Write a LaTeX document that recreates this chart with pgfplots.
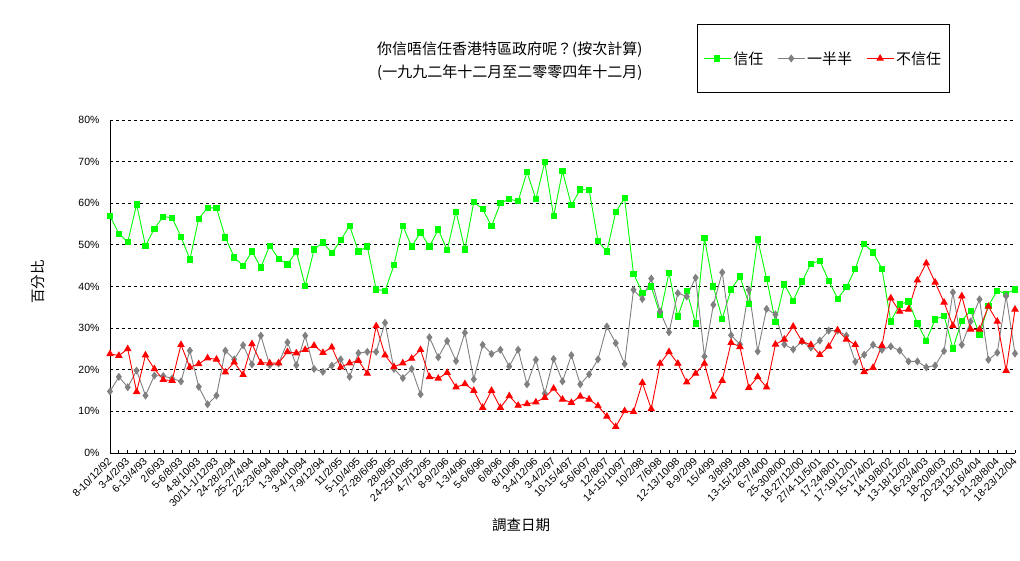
\documentclass[border=0pt]{standalone}
\usepackage{pgfplots}
\pgfplotsset{compat=1.18}
\usepackage{pgfplotstable}
\usepackage{fontspec}
\setmainfont{Liberation Sans}
\newfontfamily\cjk{Noto Sans CJK TC}
\definecolor{cgreen}{RGB}{0,255,0}
\definecolor{cgrey}{RGB}{128,128,128}
\definecolor{cred}{RGB}{255,0,0}

\pgfplotstableread{
x g h r
0 57.0 14.8 23.8
1 52.7 18.3 23.4
2 50.7 15.8 25.0
3 59.7 19.8 14.7
4 49.8 13.8 23.5
5 53.9 18.6 20.2
6 56.8 18.5 17.6
7 56.5 17.9 17.4
8 52.0 17.2 26.0
9 46.5 24.6 20.6
10 56.3 15.9 21.4
11 58.9 11.7 22.8
12 58.9 13.8 22.5
13 51.8 24.6 19.4
14 47.0 22.5 21.8
15 45.0 25.9 18.8
16 48.4 21.3 26.2
17 44.6 28.2 21.7
18 49.8 21.1 21.6
19 46.7 21.5 21.6
20 45.3 26.6 24.3
21 48.4 21.1 24.0
22 40.2 28.2 24.8
23 48.9 20.2 25.8
24 50.6 19.5 24.1
25 48.0 21.0 25.4
26 51.1 22.5 20.6
27 54.6 18.3 21.6
28 48.4 24.0 22.2
29 49.6 24.3 19.1
30 39.3 24.3 30.5
31 39.0 31.3 23.5
32 45.1 20.2 20.7
33 54.6 18.0 21.6
34 49.6 20.2 22.7
35 53.0 14.1 24.8
36 49.6 27.8 18.3
37 53.7 23.0 17.9
38 48.7 26.9 19.3
39 58.0 22.1 15.8
40 48.9 28.9 16.6
41 60.3 17.7 15.0
42 58.6 26.0 10.9
43 54.5 23.8 15.0
44 60.0 24.8 10.9
45 61.0 20.8 13.7
46 60.5 24.8 11.4
47 67.5 16.5 11.8
48 61.0 22.4 12.2
49 69.9 14.3 13.3
50 56.9 22.6 15.5
51 67.7 17.2 12.9
52 59.5 23.5 12.1
53 63.3 16.5 13.6
54 63.2 18.9 12.9
55 50.9 22.5 11.3
56 48.4 30.4 8.8
57 57.9 26.4 6.3
58 61.2 21.4 10.1
59 43.1 39.2 9.9
60 38.5 37.0 16.9
61 40.0 41.9 10.6
62 33.2 34.0 21.5
63 43.3 29.0 24.3
64 32.8 38.4 21.5
65 39.0 37.6 17.0
66 31.1 42.1 19.1
67 51.6 23.2 21.5
68 40.0 35.6 13.6
69 32.3 43.4 17.4
70 39.3 28.3 26.5
71 42.4 26.1 25.5
72 35.9 39.2 15.7
73 51.3 24.4 18.3
74 41.9 34.6 15.8
75 31.5 33.3 26.1
76 40.5 26.1 27.3
77 36.6 24.9 30.4
78 41.2 26.8 26.8
79 45.5 25.3 26.0
80 46.2 27.0 23.6
81 41.4 29.4 25.6
82 37.1 29.4 29.5
83 39.8 28.2 27.3
84 44.3 21.9 26.0
85 50.3 23.6 19.5
86 48.2 26.0 20.5
87 44.3 24.8 25.8
88 31.6 25.6 37.2
89 35.7 24.6 34.0
90 36.4 22.0 34.5
91 31.1 22.0 41.5
92 27.0 20.6 45.6
93 32.1 21.0 41.0
94 33.0 24.5 36.2
95 25.1 38.6 30.6
96 31.8 26.0 37.7
97 34.2 31.6 29.7
98 28.5 36.9 29.7
99 35.4 22.4 35.2
100 39.0 24.1 31.6
101 38.3 37.7 19.8
102 39.3 23.9 34.5
}\datatable

\begin{document}
\begin{tikzpicture}[x=1pt,y=1pt]
\path[use as bounding box] (0,0) rectangle (1020,560);
\begin{axis}[
  at={(110pt,107pt)}, anchor=south west,
  scale only axis, width=905pt, height=333pt,
  xmin=0, xmax=102, ymin=0, ymax=80,
  clip=false,
  axis x line*=bottom, axis y line*=left,
  axis line style={black, line width=0.8pt},
  xtick={0,2,...,102},
  minor xtick={1,3,...,101},
  xticklabels={8-10/12/92, 3-4/2/93, 6-13/4/93, 2/6/93, 5-6/8/93, 4-8/10/93, 30/11-1/12/93, 24-28/2/94, 25-27/4/94, 22-23/6/94, 1-3/8/94, 3-4/10/94, 7-9/12/94, 11/2/95, 5-10/4/95, 27-28/6/95, 28/8/95, 24-25/10/95, 4-7/12/95, 8-9/2/96, 1-3/4/96, 5-6/6/96, 6/8/96, 8/10/96, 3-4/12/96, 3-4/2/97, 10-15/4/97, 5-6/6/97, 12/8/97, 14-15/10/97, 10/2/98, 7/6/98, 12-13/10/98, 8-9/2/99, 15/4/99, 3/8/99, 13-15/12/99, 6-7/4/00, 25-30/8/00, 18-27/12/00, 27/4-11/5/01, 17-24/8/01, 17-19/12/01, 15-17/4/02, 14-19/8/02, 13-18/12/02, 16-23/4/03, 18-20/8/03, 20-23/12/03, 13-16/4/04, 21-28/8/04, 18-23/12/04},
  xticklabel style={xshift=-3pt, yshift=-3pt, rotate=45, anchor=north east, font=\fontsize{10.5}{11}\selectfont, inner sep=0.5pt},
  ytick={0,10,...,80},
  yticklabel={\pgfmathprintnumber{\tick}\%},
  /pgf/number format/assume math mode=true,
  yticklabel style={font=\fontsize{10.5}{12}\selectfont, xshift=-7pt},
  ymajorgrids,
  grid style={black, dash pattern=on 3pt off 3pt, line width=0.8pt},
  tick style={black, line width=0.8pt},
  tick align=inside,
  major tick length=3pt, minor tick length=3pt,
  legend columns=3,
  legend style={at={(0.6486,1.2883)}, anchor=north west, draw=black, line width=0.8pt,
    inner xsep=6pt, inner ysep=25pt,
    font=\cjk\fontsize{15}{16}\selectfont,
    /tikz/every even column/.append style={column sep=12pt}},
  legend image code/.code={\draw[mark repeat=2,mark phase=2,#1] plot coordinates {(0pt,0pt) (13.5pt,0pt) (27pt,0pt)};},
]
\addplot[color=cgreen, line width=0.9pt, mark=square*, mark size=2.6pt, mark options={solid, fill=cgreen, draw=cgreen}] table[x=x, y=g] {\datatable};
\addlegendentry{信任}
\addplot[color=cgrey, line width=0.9pt, mark=diamond*, mark size=3.3pt, mark options={solid, fill=cgrey, draw=cgrey}] table[x=x, y=h] {\datatable};
\addlegendentry{一半半}
\addplot[color=cred, line width=0.9pt, mark=triangle*, mark size=3.5pt, mark options={solid, fill=cred, draw=cred}] table[x=x, y=r] {\datatable};
\addlegendentry{不信任}
\end{axis}
\node[anchor=west, font=\cjk\fontsize{15}{16}\selectfont, inner sep=0pt] at (377,510) {你信唔信任香港特區政府呢？(按次計算)};
\node[anchor=west, font=\cjk\fontsize{15}{16}\selectfont, inner sep=0pt] at (377,487) {(一九九二年十二月至二零零四年十二月)};
\node[rotate=90, font=\cjk\fontsize{14.5}{16}\selectfont, inner sep=0pt] at (38,278) {百分比};
\node[font=\cjk\fontsize{14.5}{16}\selectfont, inner sep=0pt] at (521,35) {調查日期};
\end{tikzpicture}
\end{document}
